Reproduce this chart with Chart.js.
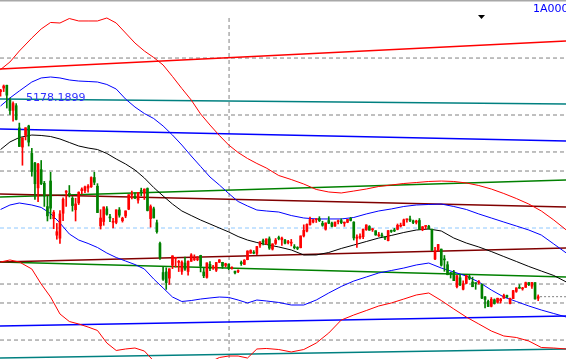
<!DOCTYPE html>
<html><head><meta charset="utf-8">
<script src="https://cdn.jsdelivr.net/npm/chart.js@4.4.1/dist/chart.umd.min.js"></script>
<style>html,body{margin:0;padding:0;background:#fff;overflow:hidden}canvas{display:block}</style>
</head><body>
<div style="width:566px;height:359px;position:relative"><canvas id="c" width="566" height="359"></canvas></div>
<script>
// Shanghai Composite (1A0001) daily candles, first candle index = -1
const firstIndex = -1;
const opens = [5101,5143,5175,5004,4890,4942,4689,4471,4604,4711,
4399,4289,4006,4214,4058,3793,4084,3655,3467,3433,
3717,3955,3943,3888,3757,3835,3974,3976,4004,4018,
4124,4025,3573,3623,3767,3674,3614,3613,3755,3632,
3686,3764,3925,3909,3867,3976,3947,3999,3656,3768,
3609,3373,3042,3049,2978,3125,3204,3158,3055,3150,
3054,3170,3190,3190,3237,3048,2987,3135,3095,3068,
3159,3158,3124,3138,3091,3057,3053,3156,3134,3188,
3262,3273,3260,3354,3405,3370,3426,3309,3374,3438,
3415,3411,3383,3376,3337,3317,3325,3459,3514,3588,
3617,3643,3656,3602,3535,3634,3605,3571,3621,3634,
3603,3614,3659,3616,3433,3442,3450,3529,3566,3529,
3518,3462,3469,3441,3405,3511,3524,3534,3570,3576,
3643,3651,3631,3614,3635,3529,3567,3570,3536,3196,
3291,3309,3194,3131,3040,3049,2880,2982,2851,2918,
2994,2934,2917,2927,2910,2765,2714,2657,2731,2703,
2720,2749,2780,2688,2745,2827,2873,2856,2873,2928,
2886,2927,2749];
const highs = [5129,5178,5176,5029,4985,4966,4744,4577,4691,4720,
4456,4297,4287,4318,4080,3914,4184,3748,3601,3748,
3892,3975,4033,3908,3888,3961,4008,4026,4045,4132,
4184,4054,3758,3789,3792,3705,3660,3756,3782,3672,
3744,3928,3970,3950,3955,4003,3994,4006,3812,3787,
3640,3389,3112,3096,3085,3233,3207,3180,3174,3218,
3174,3257,3243,3223,3239,3091,3153,3168,3124,3157,
3190,3159,3148,3139,3106,3057,3073,3173,3189,3290,
3301,3292,3339,3394,3423,3425,3448,3370,3430,3457,
3446,3419,3408,3419,3360,3336,3459,3585,3596,3673,
3649,3655,3678,3626,3607,3678,3617,3617,3640,3654,
3617,3648,3669,3621,3470,3483,3538,3586,3576,3543,
3518,3499,3490,3450,3521,3526,3545,3595,3605,3651,
3652,3684,3640,3638,3657,3566,3574,3580,3538,3328,
3362,3309,3236,3166,3045,3067,3008,3019,2947,3008,
3022,2989,2923,2951,2911,2768,2728,2757,2741,2750,
2748,2796,2786,2750,2839,2868,2904,2873,2933,2928,
2929,2927,2787];
const lows = [5051,5103,4915,4842,4767,4780,4476,4264,4552,4483,
4139,3875,3848,4043,3795,3629,3653,3541,3421,3373,
3633,3795,3903,3741,3629,3816,3938,3951,3958,4011,
4042,3724,3537,3580,3695,3622,3549,3597,3672,3616,
3666,3757,3880,3885,3832,3917,3874,3743,3559,3663,
3491,3191,2953,2850,2906,3086,3104,3053,3020,3066,
3011,3169,3178,3176,3049,2983,2978,3062,3076,3053,
3154,3089,3106,3074,3080,3025,3039,3123,3131,3187,
3261,3255,3244,3329,3356,3360,3305,3298,3361,3414,
3352,3367,3368,3345,3311,3302,3322,3447,3505,3580,
3608,3612,3622,3569,3525,3598,3562,3566,3595,3598,
3568,3609,3629,3412,3327,3426,3428,3522,3523,3510,
3466,3451,3453,3416,3401,3498,3507,3528,3560,3575,
3616,3620,3597,3595,3533,3518,3538,3538,3295,3189,
3288,3115,3056,3016,2979,2949,2867,2893,2844,2913,
2960,2880,2851,2910,2743,2638,2653,2650,2682,2694,
2695,2748,2756,2684,2745,2816,2862,2841,2872,2893,
2861,2738,2722];
const closes = [5121,5166,5062,4887,4967,4785,4478,4577,4691,4527,
4192,4053,4277,4053,3912,3687,3775,3727,3507,3709,
3877,3970,3924,3805,3823,3957,3992,4017,4026,4124,
4070,3725,3663,3789,3705,3664,3622,3756,3695,3661,
3744,3928,3928,3887,3955,3965,3993,3748,3794,3664,
3507,3210,2965,2927,3084,3232,3206,3166,3160,3080,
3170,3243,3197,3200,3114,3005,3152,3086,3097,3156,
3186,3115,3142,3092,3100,3038,3053,3143,3183,3287,
3293,3262,3338,3391,3386,3425,3320,3368,3412,3429,
3434,3375,3387,3382,3325,3316,3459,3522,3590,3646,
3640,3650,3632,3580,3607,3604,3568,3617,3630,3610,
3616,3647,3635,3436,3445,3456,3536,3584,3524,3536,
3470,3472,3455,3434,3520,3510,3516,3580,3578,3642,
3651,3636,3612,3628,3533,3563,3573,3539,3296,3288,
3361,3125,3186,3017,3022,2949,3007,2901,2913,3008,
2977,2880,2916,2938,2750,2735,2655,2737,2689,2749,
2739,2781,2763,2746,2836,2867,2863,2860,2927,2903,
2928,2741,2767];

// band curves sampled at candle indexes
const bandIdx = [-1,2,5,9,12,15,18,21,24,27,30,33,36,39,42,45,48,51,54,57,60,63,66,69,72,75,78,81,84,88,92,96,100,104,108,112,116,120,124,128,132,136,140,144,148,152,156,160,164,168,172,176,180];
const outerUpper = [5354,5440,5565,5713,5816,5890,5884,5935,5907,5907,5907,5941,5884,5770,5656,5565,5491,5406,5275,5138,5007,4848,4722,4603,4494,4409,4341,4284,4233,4147,4101,4050,3988,3959,3948,3970,3993,4022,4039,4056,4067,4079,4084,4079,4062,4033,3993,3942,3885,3822,3743,3640,3526];
const innerUpper = [4939,5030,5110,5212,5258,5269,5258,5235,5223,5218,5212,5184,5132,5018,4927,4853,4796,4711,4608,4494,4369,4250,4130,4039,3942,3851,3800,3754,3743,3731,3691,3663,3652,3652,3652,3669,3709,3743,3766,3794,3811,3817,3822,3794,3760,3709,3663,3617,3572,3526,3469,3367,3264];
const middle = [4443,4529,4580,4608,4603,4591,4563,4523,4483,4460,4443,4398,4335,4278,4210,4119,4010,3914,3822,3743,3691,3640,3595,3549,3504,3452,3412,3384,3361,3333,3299,3242,3242,3270,3316,3355,3395,3435,3464,3498,3526,3538,3515,3435,3378,3333,3281,3224,3168,3111,3059,3008,2934];
const innerLower = [3760,3811,3834,3811,3783,3714,3606,3481,3412,3373,3327,3264,3213,3173,3133,3082,2968,2866,2763,2712,2723,2740,2752,2763,2758,2729,2695,2729,2718,2701,2672,2672,2729,2809,2883,2945,2991,3037,3065,3093,3128,3150,3093,3048,3002,2934,2843,2763,2712,2661,2615,2575,2535];
const outerLower = [3162,3185,3162,3082,2911,2763,2570,2484,2456,2421,2382,2239,2154,2171,2182,2148,2034,1954,1909,1898,1920,1966,2023,2074,2091,2091,2068,2171,2177,2165,2137,2165,2239,2353,2501,2558,2609,2661,2695,2740,2786,2809,2723,2627,2535,2456,2376,2319,2302,2262,2188,2182,2171];

// straight trend lines: [value at left edge, value at right edge]
const redTrend = [5360, 5679];
const tealTrendTop = [5018, 4961];
const blueTrendTop = [4677, 4540];
const maroonTrendTop = [3936, 3788];
const greenTrendTop = [3902, 4096];
const maroonTrendLow = [3162, 3321];
const greenTrendLow = [3162, 2991];
const blueTrendLow = [2433, 2547];
const tealTrendLow = [2068, 2171];

const dashedLevels = [5485, 4836, 4415, 4198, 2911, 2695, 2273];
const blueDashedLevel = 3549;
const cursorIndex = 72.1;
const cursorTop = 5941;
const maxLabel = '5178.1899';
const codeLabel = '1A0001';
const xRange = [-1.18, 179.9];
const yRange = [2057, 6146];

const idx = opens.map((_, k) => firstIndex + k);
const candleColor = opens.map((o, k) => closes[k] >= o ? '#ff0000' : '#008000');
const lastClose = closes[closes.length - 1];
const lastIdx = idx[idx.length - 1];

function seg(pair, color, width, dash, ord) {
  return {type:'line', data:[{x:xRange[0], y:pair[0]}, {x:xRange[1], y:pair[1]}],
    borderColor:color, borderWidth:width, borderDash:dash||[], pointRadius:0, order:ord||3};
}
function curve(vals, color) {
  return {type:'line', data:bandIdx.map((x,k)=>({x, y:vals[k]})), borderColor:color,
    borderWidth:1, pointRadius:0, tension:0, order:2};
}

const datasets = [
  {type:'bar', data: idx.map((x,k)=>({x, y:[lows[k], highs[k]]})), backgroundColor:candleColor,
    barThickness:1, grouped:false, order:0, minBarLength:1},
  {type:'bar', data: idx.map((x,k)=>({x, y:[opens[k], closes[k]]})), backgroundColor:candleColor,
    barThickness:2, grouped:false, order:0, minBarLength:1},
  curve(outerUpper, '#ff0000'),
  curve(innerUpper, '#0000ff'),
  curve(middle, '#000000'),
  curve(innerLower, '#0000ff'),
  curve(outerLower, '#ff0000'),
  seg(redTrend, '#ff0000', 1.6),
  seg(tealTrendTop, '#008080', 1.6),
  seg(blueTrendTop, '#0000ff', 1.6),
  seg(maroonTrendTop, '#800000', 1.6),
  seg(greenTrendTop, '#008000', 1.6),
  seg(maroonTrendLow, '#800000', 1.6),
  seg(greenTrendLow, '#008000', 1.6),
  seg(blueTrendLow, '#0000ff', 1.6),
  seg(tealTrendLow, '#008080', 1.6),
  ...dashedLevels.map(v => seg([v, v], '#808080', 1, [4,3], 4)),
  seg([blueDashedLevel, blueDashedLevel], '#8ec8ff', 1, [4,3], 4),
  {type:'line', data:[{x:cursorIndex, y:cursorTop}, {x:cursorIndex, y:yRange[0]}], borderColor:'#808080',
    borderWidth:1, borderDash:[4,3], pointRadius:0, order:4},
  {type:'line', data:[{x:lastIdx + 0.6, y:lastClose}, {x:xRange[1], y:lastClose}], borderColor:'#808080',
    borderWidth:1, borderDash:[2,2], pointRadius:0, order:4}
];

const labelsPlugin = {
  id:'labels',
  afterDraw(chart) {
    const ctx = chart.ctx;
    ctx.save();
    ctx.fillStyle = '#a8a8a8';
    ctx.fillRect(0, 0, chart.width, 1.5);
    ctx.font = '11px "DejaVu Sans"';
    ctx.textBaseline = 'alphabetic';
    ctx.fillStyle = '#3030ff';
    ctx.fillText(maxLabel, 26, 101);
    ctx.fillStyle = '#0000ff';
    ctx.fillText(codeLabel, 533, 12);
    ctx.fillStyle = '#000000';
    ctx.beginPath();
    ctx.moveTo(478, 15); ctx.lineTo(485, 15); ctx.lineTo(481.5, 19); ctx.closePath();
    ctx.fill();
    ctx.restore();
  }
};

new Chart(document.getElementById('c'), {
  type:'bar',
  data:{datasets},
  options:{
    responsive:false, animation:false, devicePixelRatio:1,
    layout:{padding:0},
    plugins:{legend:{display:false}, tooltip:{enabled:false}, title:{display:false}},
    scales:{
      x:{type:'linear', min:xRange[0], max:xRange[1], display:false, offset:false},
      y:{type:'linear', min:yRange[0], max:yRange[1], display:false}
    }
  },
  plugins:[labelsPlugin]
});
</script>
</body></html>
